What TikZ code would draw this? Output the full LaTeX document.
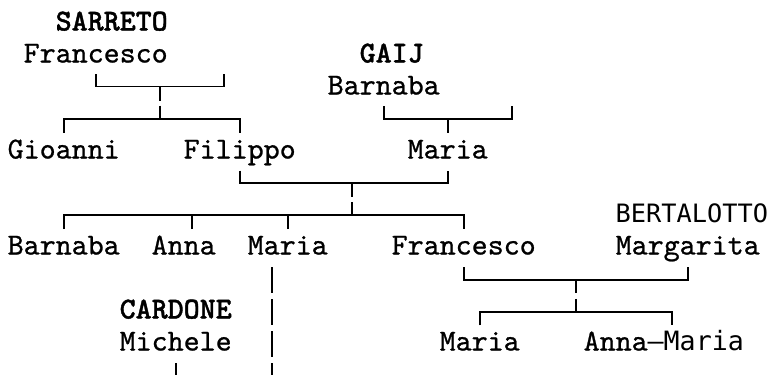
\documentclass[tikz,border=0pt]{standalone}
\usepackage{fontspec}
\newfontfamily\sansmono{DejaVu Sans Mono}
\newfontfamily\heavymono{lmmono10-regular.otf}[FakeBold=0.8]
\newfontfamily\boldmono{lmmonolt10-bold.otf}[FakeBold=1.2]
\newcommand\X[1]{7.7+16*#1}
\newcommand\B[1]{30.5+32*#1}
\tikzset{
  person/.style={anchor=base west, inner sep=0pt, outer sep=0pt,
    font=\heavymono\fontsize{30.48}{32}\selectfont},
  surname/.style={person, font=\boldmono\fontsize{30.48}{32}\selectfont},
  sansname/.style={person, font=\sansmono\fontsize{25.3}{32}\selectfont},
  link/.style={line width=1.8pt, line cap=butt, line join=miter},
}
\begin{document}
\begin{tikzpicture}[x=1pt,y=-1pt]
\useasboundingbox (0,0) rectangle (778,375);
\fill[white] (0,0) rectangle (778,375);

% ---- people ----
\node[surname] (sarreto) at (\X{3},\B{0}) {SARRETO};
\node[person]  (francA)  at (\X{1},\B{1}) {Francesco};
\node[surname] (gaij)    at (\X{22},\B{1}) {GAIJ};
\node[person]  (barnA)   at (\X{20},\B{2}) {Barnaba};
\node[person]  (gioanni) at (\X{0},\B{4}) {Gioanni};
\node[person]  (filippo) at (\X{11},\B{4}) {Filippo};
\node[person]  (mariaA)  at (\X{25},\B{4}) {Maria};
\node[sansname](bertal)  at (\X{38},\B{6}) {BERTALOTTO};
\node[person]  (barnB)   at (\X{0},\B{7}) {Barnaba};
\node[person]  (anna)    at (\X{9},\B{7}) {Anna};
\node[person]  (mariaB)  at (\X{15},\B{7}) {Maria};
\node[person]  (francB)  at (\X{24},\B{7}) {Francesco};
\node[person]  (margar)  at (\X{38},\B{7}) {Margarita};
\node[surname] (cardone) at (\X{7},\B{9}) {CARDONE};
\node[person]  (michele) at (\X{7},\B{10}) {Michele};
\node[person]  (mariaC)  at (\X{27},\B{10}) {Maria};
\node[person]  (annamar) at (\X{36},\B{10}) {Anna{\sansmono\fontsize{26.6}{32}\selectfont –Maria}};

% ---- generation 1: Francesco SARRETO ----
\coordinate (f1l) at (\X{5.5},74);
\coordinate (f1r) at (\X{13.5},74);
\coordinate (f1m) at (\X{9.5},86.5);
\draw[link] (f1l) -- (f1l |- f1m) -- (f1r |- f1m) -- (f1r);
\draw[link] (f1m) -- ++(0,14);
\draw[link] (\X{9.5},105.5) -- (\X{9.5},118.6);
\coordinate (k1) at (\X{9.5},118.6);
\coordinate (k1l) at (\X{3.5},132.5);
\coordinate (k1r) at (\X{14.5},132.5);
\draw[link] (k1l) -- (k1l |- k1) -- (k1r |- k1) -- (k1r);

% ---- Barnaba GAIJ ----
\coordinate (g1l) at (\X{23.5},106);
\coordinate (g1r) at (\X{31.5},106);
\coordinate (g1m) at (\X{27.5},118.6);
\draw[link] (g1l) -- (g1l |- g1m) -- (g1r |- g1m) -- (g1r);
\draw[link] (g1m) -- (\X{27.5},132.5);

% ---- Filippo + Maria ----
\coordinate (c2l) at (\X{14.5},170.5);
\coordinate (c2r) at (\X{27.5},170.5);
\coordinate (c2m) at (\X{21.5},183);
\draw[link] (c2l) -- (c2l |- c2m) -- (c2r |- c2m) -- (c2r);
\draw[link] (c2m) -- (\X{21.5},196.5);
\draw[link] (\X{21.5},202) -- (\X{21.5},215.2);
\coordinate (k2) at (\X{21.5},215.2);
\foreach \c/\n in {3.5/a,11.5/b,17.5/c,28.5/d}
  \coordinate (k2\n) at (\X{\c},229);
\draw[link] (k2a) -- (k2a |- k2) -- (k2d |- k2) -- (k2d);
\draw[link] (k2b) -- (k2b |- k2);
\draw[link] (k2c) -- (k2c |- k2);

% ---- Francesco + Margarita ----
\coordinate (c3l) at (\X{28.5},267);
\coordinate (c3r) at (\X{42.5},267);
\coordinate (c3m) at (\X{35.5},279.6);
\draw[link] (c3l) -- (c3l |- c3m) -- (c3r |- c3m) -- (c3r);
\draw[link] (c3m) -- (\X{35.5},293);
\draw[link] (\X{35.5},298.8) -- (\X{35.5},311.8);
\coordinate (k3) at (\X{35.5},311.8);
\coordinate (k3l) at (\X{29.5},325.3);
\coordinate (k3r) at (\X{41.5},325.3);
\draw[link] (k3l) -- (k3l |- k3) -- (k3r |- k3) -- (k3r);

% ---- Maria + Michele CARDONE ----
\foreach \a/\b in {267/293,299/325,331/357,363/375}
  \draw[link] (\X{16.5},\a) -- (\X{16.5},\b);
\coordinate (mic) at (\X{10.5},363);
\draw[link] (mic) -- (\X{10.5},375);
\end{tikzpicture}
\end{document}
